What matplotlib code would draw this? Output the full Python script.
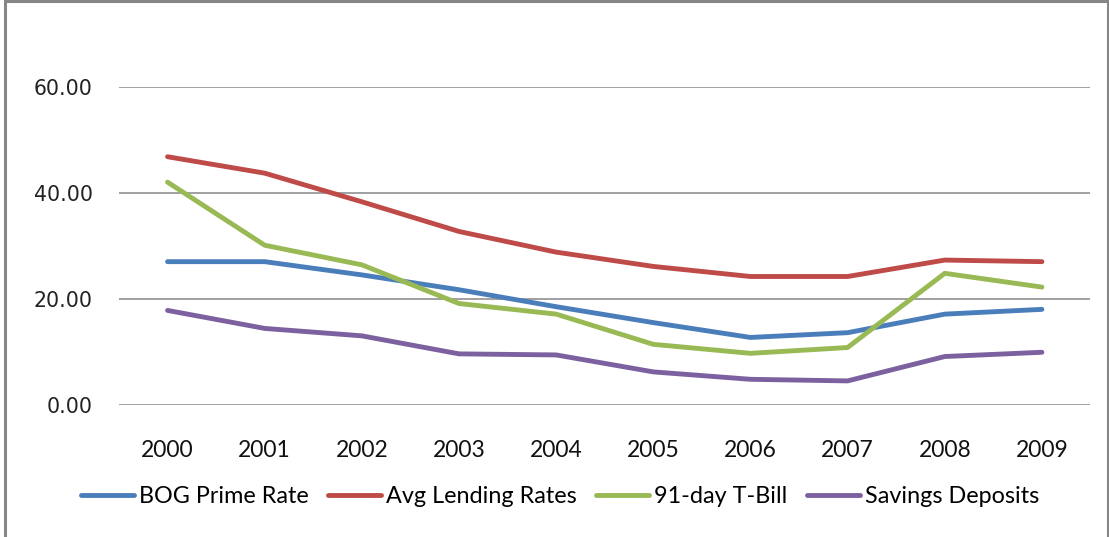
import numpy as np
import matplotlib
matplotlib.use("Agg")
import matplotlib.pyplot as plt
from matplotlib.patches import Rectangle

# Taxas de juro (%), 2000-2009
anos = ["2000", "2001", "2002", "2003", "2004", "2005", "2006", "2007", "2008", "2009"]
bog_prime = [27.1, 27.1, 24.6, 21.8, 18.6, 15.6, 12.8, 13.7, 17.2, 18.1]
avg_lending = [46.9, 43.8, 38.4, 32.8, 28.9, 26.2, 24.3, 24.3, 27.4, 27.1]
tbill_91 = [42.1, 30.2, 26.5, 19.2, 17.2, 11.5, 9.8, 10.9, 24.9, 22.3]
savings = [17.9, 14.5, 13.1, 9.7, 9.5, 6.3, 4.9, 4.6, 9.2, 10.0]

series = [
    ("BOG Prime Rate", bog_prime, "#4a7ebb"),
    ("Avg Lending Rates", avg_lending, "#be4b48"),
    ("91-day T-Bill", tbill_91, "#98b954"),
    ("Savings Deposits", savings, "#7d60a0"),
]

fig = plt.figure(figsize=(11.09, 5.37), dpi=100)
ax = fig.add_axes([0.1073, 0.2453, 0.876, 0.5921])

x = np.arange(len(anos))
for nome, vals, cor in series:
    ax.plot(x, vals, color=cor, linewidth=3.5, solid_capstyle="round",
            solid_joinstyle="round", label=nome)

ax.set_xlim(-0.5, len(anos) - 0.5)
ax.set_ylim(0, 60)
ax.set_yticks([0, 20, 40, 60])
ax.set_yticklabels([f"{v:.2f}" for v in [0, 20, 40, 60]],
                   fontfamily="DejaVu Sans", fontsize=14.8, color="#222222")
ax.set_xticks(x)
ax.set_xticklabels(anos, fontfamily="Lato", fontsize=16.5, color="#111111")
ax.tick_params(axis="y", length=0, pad=19)
ax.tick_params(axis="x", length=0, pad=25)

ax.grid(axis="y", color="#868686", linewidth=1.1)
ax.set_axisbelow(True)
for s in ax.spines.values():
    s.set_visible(False)

leg = ax.legend(loc="center", bbox_to_anchor=(0.505, 0.0745),
                bbox_transform=fig.transFigure, ncol=4, frameon=False,
                prop={"family": "Lato", "size": 16.8}, handlelength=2.27,
                handletextpad=0.22, columnspacing=0.82)

# moldura do grafico
fig.add_artist(Rectangle((0.0045, -0.02), 0.9945, 1.019, transform=fig.transFigure,
                         fill=False, edgecolor="#868686", linewidth=2.2,
                         clip_on=False))

plt.savefig("out.png", dpi=100)
plt.close()
